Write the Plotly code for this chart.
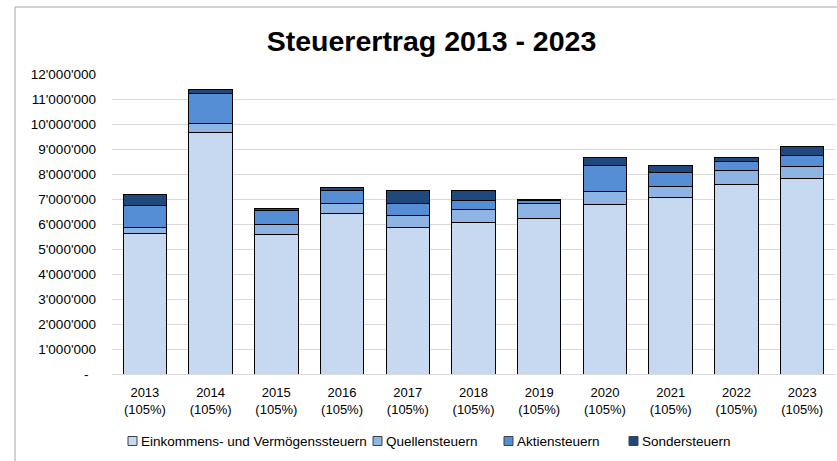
import plotly.graph_objects as go

years = ["2013", "2014", "2015", "2016", "2017", "2018", "2019", "2020", "2021", "2022", "2023"]
pct_labels = ["(105%)"] * 11
einkommen = [5630000, 9680000, 5590000, 6410000, 5850000, 6080000, 6210000, 6800000, 7070000, 7600000, 7830000]
quellen = [220000, 360000, 400000, 430000, 500000, 510000, 620000, 510000, 440000, 530000, 480000]
aktien = [880000, 1170000, 550000, 510000, 480000, 360000, 110000, 1040000, 540000, 390000, 450000]
sonder = [470000, 180000, 80000, 120000, 500000, 410000, 60000, 330000, 300000, 150000, 350000]

series_names = ["Einkommens- und Vermögenssteuern", "Quellensteuern", "Aktiensteuern", "Sondersteuern"]
series_values = [einkommen, quellen, aktien, sonder]
colors = ["#C6D9F1", "#8EB4E3", "#558ED5", "#1F497D"]

ytick_vals = [i * 1000000 for i in range(13)]
ytick_text = ["-\u00a0\u00a0"] + ["{:,}".format(v).replace(",", "'") for v in ytick_vals[1:]]

xtick_text = [f"{y}<br>{p}" for y, p in zip(years, pct_labels)]

W, H = 837, 461
L, R, T, B = 112, 2, 74, 87
PW, PH = W - L - R, H - T - B

fig = go.Figure()
for name, vals, col in zip(series_names, series_values, colors):
    fig.add_trace(go.Bar(
        x=years, y=vals, name=name, showlegend=False,
        marker=dict(color=col, line=dict(color="#000000", width=1)),
    ))

font_main = "Liberation Sans, Arial, sans-serif"

# manual legend (Excel style: small squares, tight spacing)
legend_px = [128, 373, 504, 629]
legend_y = 441
shapes = [dict(type="rect", xref="paper", yref="paper",
               x0=(15 - L) / PW, x1=1.2, y0=-0.5, y1=(H - B - 7) / PH,
               line=dict(color="#A6A6A6", width=1), fillcolor="rgba(0,0,0,0)", layer="below")]
annotations = []
for name, col, px in zip(series_names, colors, legend_px):
    shapes.append(dict(type="rect", xref="paper", yref="paper",
                       x0=(px - L) / PW, x1=(px + 9 - L) / PW,
                       y0=(H - B - legend_y - 4.5) / PH, y1=(H - B - legend_y + 4.5) / PH,
                       line=dict(color="#404040", width=1), fillcolor=col))
    annotations.append(dict(text=name, xref="paper", yref="paper",
                            x=(px + 11 - L) / PW, y=(H - B - legend_y) / PH,
                            xanchor="left", yanchor="middle", showarrow=False,
                            font=dict(family=font_main, size=13.5, color="#000000")))

fig.update_layout(
    width=W, height=H,
    barmode="stack", bargap=0.34,
    paper_bgcolor="white", plot_bgcolor="white",
    margin=dict(l=L, r=R, t=T, b=B),
    title=dict(text="<b>Steuerertrag 2013 - 2023</b>", x=431.5 / W, xanchor="center",
               y=1 - 41 / H, yanchor="middle",
               font=dict(family=font_main, size=28.5, color="#000000")),
    font=dict(family=font_main, size=13, color="#000000"),
    showlegend=False,
    shapes=shapes,
    annotations=annotations,
)

fig.update_xaxes(tickmode="array", tickvals=years, ticktext=xtick_text,
                 showline=False, showgrid=False, ticks="", ticklabelstandoff=9,
                 tickfont=dict(family=font_main, size=13, color="#000000"))
fig.update_yaxes(range=[0, 12000000], tickmode="array", tickvals=ytick_vals, ticktext=ytick_text,
                 showgrid=True, gridcolor="#D9D9D9", gridwidth=1, zeroline=True,
                 zerolinecolor="#D9D9D9", zerolinewidth=1, showline=False, ticks="",
                 ticklabelstandoff=15,
                 tickfont=dict(family=font_main, size=13.5, color="#000000"))

fig.write_html("out.html", config={"displayModeBar": False},
               post_script="document.body.style.margin='0px';")
